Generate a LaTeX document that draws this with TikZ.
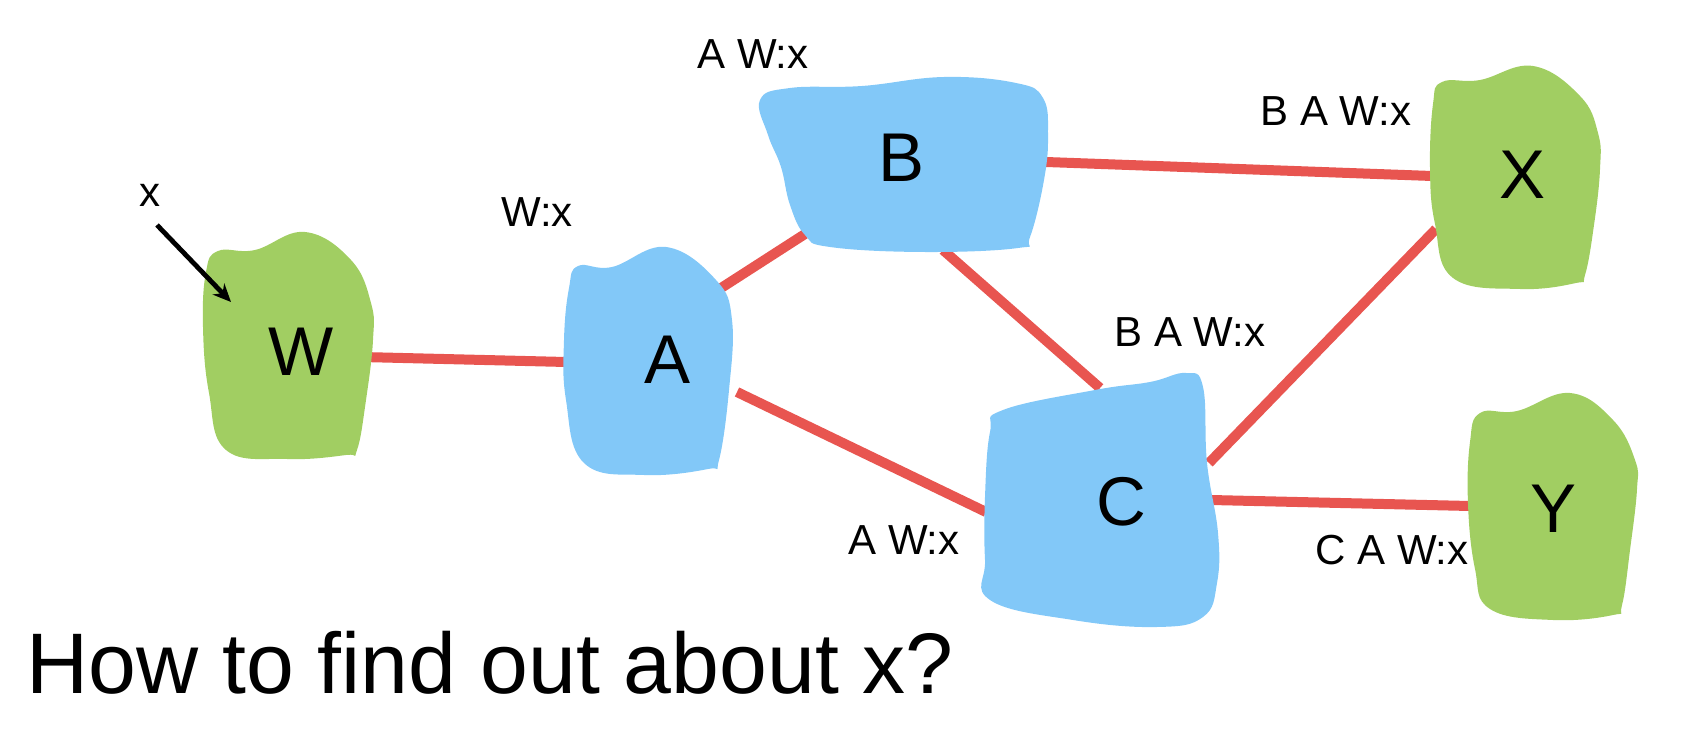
\documentclass[tikz,border=0pt]{standalone}
\usepackage{fontspec}
\setmainfont{Liberation Sans}
\usetikzlibrary{arrows.meta}
\definecolor{leaf}{HTML}{A1CE62}
\definecolor{sky}{HTML}{82C8F8}
\definecolor{wire}{HTML}{E85550}
\tikzset{
  link/.style={draw=wire, line width=5pt,
    preaction={draw=black, opacity=0.15, transform canvas={shift={(0.7pt,-1.2pt)}}}},
  greenblob/.style={fill=leaf},
  blueblob/.style={fill=sky},
  letter/.style={font=\fontsize{34.5}{40}\selectfont, inner sep=0pt},
  msg/.style={font=\fontsize{21}{25}\selectfont, inner sep=0pt},
  pointer/.style={draw=black, line width=2.4pt, -{Stealth[length=9pt,width=8pt]}},
}

\begin{document}
\begin{tikzpicture}[x=0.5pt, y=-0.5pt]
        \useasboundingbox (0,0) rectangle (1690,742);
        % ends of the links
        \coordinate (WE)  at (362,357);
        \coordinate (AW)  at (566,362);
        \coordinate (ANE) at (718,290);
        \coordinate (BSW) at (805,234);
        \coordinate (AE)  at (737,392);
        \coordinate (CW)  at (986,512);
        \coordinate (BE)  at (1046,162);
        \coordinate (XW)  at (1432,176);
        \coordinate (BS)  at (943,250);
        \coordinate (CN)  at (1100,388);
        \coordinate (CNE) at (1209,463);
        \coordinate (XSW) at (1436,229);
        \coordinate (CE)  at (1211,500);
        \coordinate (YW)  at (1470,506);
        \draw [link] (WE)  -- (AW);
        \draw [link] (ANE) -- (BSW);
        \draw [link] (AE)  -- (CW);
        \draw [link] (BE)  -- (XW);
        \draw [link] (BS)  -- (CN);
        \draw [link] (CNE) -- (XSW);
        \draw [link] (CE)  -- (YW);
        % blobs
        \fill [greenblob] plot [smooth cycle, tension=0.7] coordinates {(218,251) (255,250) (305,232) (351,260) (371,303) (373,340) (366,400) (357,450) (346,455) (287,459) (226,450) (209,393) (203,327) (206,272)};
        \fill [blueblob] plot [smooth cycle, tension=0.7] coordinates {(578,266) (612,267) (666,247) (716,280) (732,320) (729,390) (719,460) (708,469) (644,475) (584,463) (566,400) (564,340) (569,288)};
        \fill [blueblob] plot [smooth cycle, tension=0.7] coordinates {(760,100) (790,88) (862,86) (944,77) (1016,83) (1043,98) (1048,135) (1044,180) (1030,237) (1018,248) (924,252) (830,247) (805,235) (790,205) (781,167) (768,135)};
        \fill [greenblob] plot [smooth cycle, tension=0.7] coordinates {(1442,82) (1480,80) (1533,66) (1580,96) (1598,133) (1600,169) (1594,225) (1585,275) (1576,283) (1520,289) (1453,278) (1435,224) (1430,169) (1433,104)};
        \fill [blueblob] plot [smooth cycle, tension=0.7] coordinates {(1003,410) (1095,390) (1150,382) (1186,373) (1203,387) (1207,463) (1218,533) (1217,583) (1203,617) (1157,627) (1073,620) (990,600) (985,560) (985,497) (990,432)};
        \fill [greenblob] plot [smooth cycle, tension=0.7] coordinates {(1480,413) (1517,411) (1570,393) (1613,420) (1635,460) (1637,489) (1630,550) (1622,605) (1613,615) (1553,620) (1490,609) (1475,569) (1468,504) (1470,442)};
        % letters
        \node [letter] (W) at (301,352)  {W};
        \node [letter] (A) at (667,360)  {A};
        \node [letter] (B) at (901,158)  {B};
        \node [letter] (X) at (1522,175) {X};
        \node [letter] (C) at (1121,502) {C};
        \node [letter] (Y) at (1553,509) {Y};
        % what each one has heard
        \node [msg] (WX)   at (537,212)  {W:x};
        \node [msg] (AWX)  at (753,54)   {A W:x};
        \node [msg] (BAWX) at (1336,111) {B A W:x};
        \node [msg] (BAWC) at (1190,332) {B A W:x};
        \node [msg] (AWC)  at (904,540)  {A W:x};
        \node [msg] (CAWX) at (1392,550) {C A W:x};
        \node [msg] (x)    at (150,195)  {x};
        \coordinate (ptail) at (157,225);
        \coordinate (ptip)  at (231,302);
        \draw [pointer] (ptail) -- (ptip);
        \node [anchor=base west, inner sep=0pt, font=\fontsize{43}{50}\selectfont] (Q) at (26,693) {How to find out about x?};
\end{tikzpicture}
\end{document}
